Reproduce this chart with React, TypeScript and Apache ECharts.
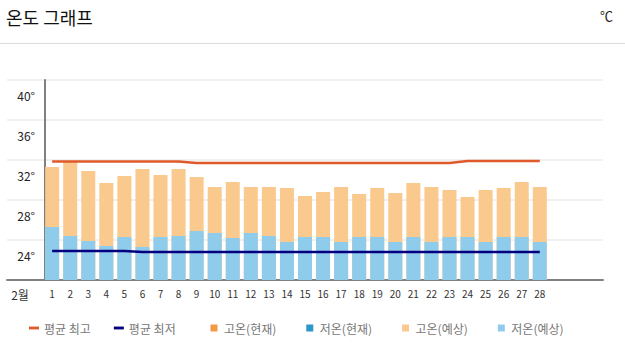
import React, { useEffect, useRef } from "react";
import * as echarts from "echarts";

const monthLabel = "2월";
const days = ["1","2","3","4","5","6","7","8","9","10","11","12","13","14","15","16","17","18","19","20","21","22","23","24","25","26","27","28"];
const highForecast = [31.3,31.8,30.9,29.7,30.4,31.1,30.5,31.1,30.3,29.3,29.8,29.3,29.3,29.2,28.4,28.8,29.3,28.6,29.2,28.7,29.7,29.3,29.0,28.3,29.0,29.2,29.8,29.3];
const lowForecast = [25.3,24.4,23.9,23.4,24.3,23.3,24.3,24.4,24.9,24.7,24.2,24.7,24.4,23.8,24.3,24.3,23.8,24.3,24.3,23.8,24.3,23.8,24.3,24.3,23.8,24.3,24.3,23.8];
const meanHigh = [31.85,31.85,31.85,31.85,31.85,31.85,31.85,31.85,31.7,31.7,31.7,31.7,31.7,31.7,31.7,31.7,31.7,31.7,31.7,31.7,31.7,31.7,31.7,31.9,31.9,31.9,31.9,31.9];
const meanLow = [22.9,22.9,22.9,22.9,22.9,22.8,22.8,22.8,22.8,22.8,22.8,22.8,22.8,22.8,22.8,22.8,22.8,22.8,22.8,22.8,22.8,22.8,22.8,22.8,22.8,22.8,22.8,22.8];
const highCurrent: number[] = [];
const lowCurrent: number[] = [];
const yTicks = [20, 24, 28, 32, 36, 40];

const FONT = "'Noto Sans CJK KR', 'Noto Sans', sans-serif";

export default function App() {
  const ref = useRef<HTMLDivElement>(null);
  useEffect(() => {
    if (!ref.current) return;
    const chart = echarts.init(ref.current, null, { renderer: "svg" });
    const categories = [monthLabel, "", ...days, "", "", ""];
    const pad = (arr: number[]) => [null, null, ...arr];
    const legendText = { color: "#777", fontSize: 12, fontFamily: FONT };
    const option = {
      animation: false,
      textStyle: { fontFamily: FONT },
      grid: { left: 7, right: 22, top: 80, bottom: 73, containLabel: false },
      graphic: [
        { type: "text", left: 6, top: 8, style: { text: "온도 그래프", fontSize: 18, fill: "#111", fontFamily: FONT } },
        { type: "text", right: 12, top: 9, style: { text: "℃", fontSize: 13, fill: "#222", fontFamily: FONT } },
        { type: "line", shape: { x1: 0, y1: 43.5, x2: 625, y2: 43.5 }, style: { stroke: "#dcdcdc", lineWidth: 1 } },
      ],
      legend: [
        {
          left: 24,
          top: 317,
          itemWidth: 10,
          itemHeight: 7,
          itemGap: 23,
          selectedMode: false,
          textStyle: legendText,
          data: [
            { name: "평균 최고", icon: "path://M0,0H7V2H0Z" },
            { name: "평균 최저", icon: "path://M0,0H7V2H0Z" },
          ],
        },
        {
          left: 205.5,
          top: 317,
          itemWidth: 10,
          itemHeight: 7,
          itemGap: 30,
          selectedMode: false,
          textStyle: legendText,
          data: [
            { name: "고온(현재)", icon: "path://M0,0H7V7H0Z" },
            { name: "저온(현재)", icon: "path://M0,0H7V7H0Z" },
            { name: "고온(예상)", icon: "path://M0,0H7V7H0Z" },
            { name: "저온(예상)", icon: "path://M0,0H7V7H0Z" },
          ],
        },
      ],
      xAxis: {
        type: "category",
        data: categories,
        boundaryGap: true,
        axisLine: { show: true, lineStyle: { color: "#808080", width: 2 } },
        axisTick: { show: false },
        axisLabel: {
          interval: 0,
          margin: 8,
          fontSize: 10,
          color: "#333",
          formatter: (v: string, i: number) => (i === 0 ? "{m|" + v + "}" : v),
          rich: { m: { fontSize: 12, color: "#333", fontFamily: FONT, padding: [0, 0, 0, 8] } },
        },
        splitLine: { show: false },
      },
      yAxis: {
        type: "value",
        min: yTicks[0],
        max: yTicks[yTicks.length - 1],
        interval: 4,
        offset: -38,
        axisLine: { show: true, lineStyle: { color: "#808080", width: 2 } },
        axisTick: { show: false },
        splitLine: { show: true, lineStyle: { color: "#f0f0f0", width: 2 } },
        axisLabel: {
          margin: 10,
          fontSize: 12,
          color: "#222",
          verticalAlign: "top",
          padding: [9, 0, 0, 0],
          formatter: (v: number) => (v === yTicks[0] ? "" : v + "°"),
        },
      },
      series: [
        { name: "고온(현재)", type: "bar", data: pad(highCurrent), barWidth: 14, barGap: "-100%", itemStyle: { color: "#f39a45" } },
        { name: "저온(현재)", type: "bar", data: pad(lowCurrent), barWidth: 14, barGap: "-100%", itemStyle: { color: "#2a97c9" } },
        { name: "고온(예상)", type: "bar", data: pad(highForecast), barWidth: 14, barGap: "-100%", itemStyle: { color: "#f9c98e" } },
        { name: "저온(예상)", type: "bar", data: pad(lowForecast), barWidth: 14, barGap: "-100%", itemStyle: { color: "#8fcbea" } },
        { name: "평균 최고", type: "line", data: pad(meanHigh), symbol: "none", z: 5, lineStyle: { color: "#e0592b", width: 2.5 }, itemStyle: { color: "#e0592b" } },
        { name: "평균 최저", type: "line", data: pad(meanLow), symbol: "none", z: 5, lineStyle: { color: "#000080", width: 2.5 }, itemStyle: { color: "#000080" } },
      ],
    };
    chart.setOption(option as any);
    return () => chart.dispose();
  }, []);
  return (
    <div
      ref={ref}
      style={{ position: "absolute", left: 0, top: 0, width: 625, height: 353, background: "#fff" }}
    />
  );
}
